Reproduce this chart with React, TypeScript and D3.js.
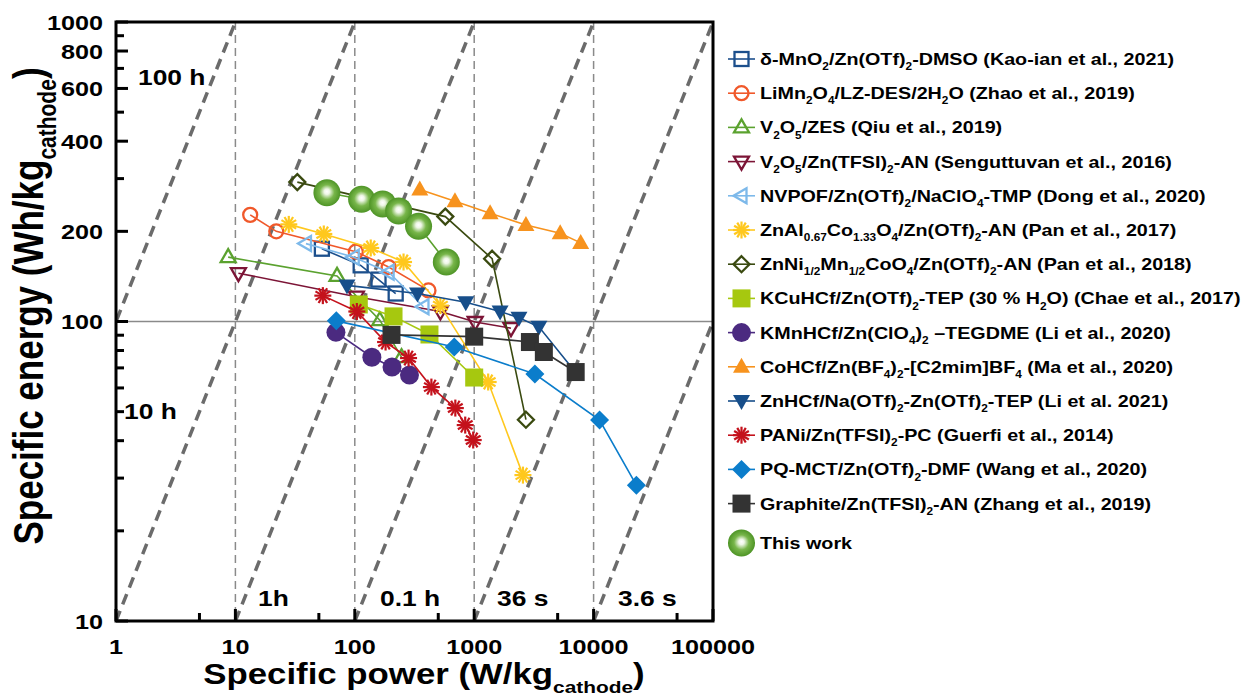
import React from 'react';
import * as d3 from 'd3';

const W = 1252;
const H = 695;
const SX = 1.2; // the reference figure is stretched horizontally
const FONT = '"Liberation Sans", Arial, Helvetica, sans-serif';

// [specific power (W/kg), specific energy (Wh/kg)]
const mno2Dmso = [[53, 175], [112, 154], [158, 138], [220, 124]];
const limn2o4Des = [[13.3, 227], [22, 200], [102, 171], [192, 152], [414, 127]];
const v2o5Zes = [[8.7, 164], [71, 142], [162, 101], [246, 76]];
const v2o5Tfsi = [[10.6, 145], [103, 121], [521, 108], [1019, 99.6], [2033, 95]];
const nvpof = [[39, 182], [98, 164], [192, 146], [376, 112]];
const znAlCo = [[28, 211], [55, 196], [136, 176], [256, 158], [521, 113], [1309, 62.8], [2560, 30.7]];
const znNiMn = [[33, 292], [573, 224], [1413, 162], [2712, 47]];
const kcuhcf = [[108, 114], [211, 104], [422, 90.5], [1000, 65]];
const kmnhcf = [[69.5, 92], [139, 76], [205, 70.5], [287, 66.3]];
const cohcf = [[350, 276], [690, 252], [1359, 230], [2712, 210], [5250, 197], [7798, 183]];
const znhcf = [[86, 132], [335, 124], [850, 116], [1648, 108], [2371, 103], [3481, 96], [7000, 68]];
const pani = [[54, 122], [104, 108], [181, 85.4], [282, 75.5], [438, 60.4], [695, 51.4], [841, 45.1], [981, 40.2]];
const pqmct = [[70, 100.5], [681, 82.2], [3224, 66.8], [11220, 46.9], [22810, 28.4]];
const graphite = [[203, 90.2], [1000, 89], [2929, 85.4], [3831, 79.1], [7079, 67.8]];
const thisWork = [[58.4, 269], [114, 256], [171, 247], [233, 234], [342, 208], [584, 158]];

const legendLabels = [
  'δ-MnO_{2}/Zn(OTf)_{2}-DMSO (Kao-ian et al., 2021)',
  'LiMn_{2}O_{4}/LZ-DES/2H_{2}O (Zhao et al., 2019)',
  'V_{2}O_{5}/ZES (Qiu et al., 2019)',
  'V_{2}O_{5}/Zn(TFSI)_{2}-AN (Senguttuvan et al., 2016)',
  'NVPOF/Zn(OTf)_{2}/NaClO_{4}-TMP (Dong et al., 2020)',
  'ZnAl_{0.67}Co_{1.33}O_{4}/Zn(OTf)_{2}-AN (Pan et al., 2017)',
  'ZnNi_{1/2}Mn_{1/2}CoO_{4}/Zn(OTf)_{2}-AN (Pan et al., 2018)',
  'KCuHCf/Zn(OTf)_{2}-TEP (30 % H_{2}O) (Chae et al., 2017)',
  'KMnHCf/Zn(ClO_{4})_{2} –TEGDME (Li et al., 2020)',
  'CoHCf/Zn(BF_{4})_{2}-[C2mim]BF_{4} (Ma et al., 2020)',
  'ZnHCf/Na(OTf)_{2}-Zn(OTf)_{2}-TEP (Li et al. 2021)',
  'PANi/Zn(TFSI)_{2}-PC (Guerfi et al., 2014)',
  'PQ-MCT/Zn(OTf)_{2}-DMF (Wang et al., 2020)',
  'Graphite/Zn(TFSI)_{2}-AN (Zhang et al., 2019)',
  'This work',
];

const series = [
  { data: mno2Dmso, color: '#1c4f8c', shape: 'sqOpen' },
  { data: limn2o4Des, color: '#f0582a', shape: 'circOpen' },
  { data: v2o5Zes, color: '#5ba22f', shape: 'triUpOpen' },
  { data: v2o5Tfsi, color: '#7c1436', shape: 'triDownOpen' },
  { data: nvpof, color: '#7db9ea', shape: 'triLeftOpen' },
  { data: znAlCo, color: '#ffc81e', shape: 'star' },
  { data: znNiMn, color: '#3a4a10', shape: 'diaOpen' },
  { data: kcuhcf, color: '#a6c80f', shape: 'sq' },
  { data: kmnhcf, color: '#4b2a80', shape: 'circ' },
  { data: cohcf, color: '#f7931e', shape: 'triUp' },
  { data: znhcf, color: '#174e8a', shape: 'triDown' },
  { data: pani, color: '#c4121c', shape: 'star' },
  { data: pqmct, color: '#0b7dcb', shape: 'dia' },
  { data: graphite, color: '#333333', shape: 'sq' },
  { data: thisWork, color: '#5aa02c', shape: 'ball' },
];

const xTicks = [1, 10, 100, 1000, 10000, 100000];
const xMinor = [5, 50, 500, 5000, 50000];
const yLabels = [10, 100, 200, 400, 600, 800, 1000];
const yMinor = [20, 30, 40, 50, 60, 70, 80, 90, 300, 500, 700, 900];
const hours = [100, 10, 1, 0.1, 0.01, 0.001];
const gridX = [10, 100, 1000, 10000];

const x = d3.scaleLog().domain([1, 100000]).range([116, 713]);
const y = d3.scaleLog().domain([10, 1000]).range([621, 22]);

function Rich({ text, size }: { text: string; size: number }) {
  const parts = text.split(/(_\{[^}]*\})/).filter((p) => p !== '');
  const off = size * 0.3;
  let wasSub = false;
  return (
    <>
      {parts.map((p, i) => {
        const isSub = p.startsWith('_{');
        const dy = isSub && !wasSub ? off : !isSub && wasSub ? -off : 0;
        wasSub = isSub;
        return (
          <tspan key={i} dy={dy} fontSize={isSub ? size * 0.6 : size}>
            {isSub ? p.slice(2, -1) : p}
          </tspan>
        );
      })}
    </>
  );
}

function T({ x0, y0, size, anchor = 'start', sx = SX, children }: any) {
  return (
    <g transform={`translate(${x0},${y0}) scale(${sx},1)`}>
      <text textAnchor={anchor} fontSize={size} fontWeight="bold" fontFamily={FONT} fill="#000">
        {children}
      </text>
    </g>
  );
}

function Marker({ shape, color }: { shape: string; color: string }) {
  const sw = 2.3;
  switch (shape) {
    case 'sqOpen':
      return <rect x={-7} y={-7} width={14} height={14} fill="none" stroke={color} strokeWidth={sw} />;
    case 'circOpen':
      return <circle r={7} fill="none" stroke={color} strokeWidth={sw} />;
    case 'triUpOpen':
      return <path d="M0,-8L7.5,5L-7.5,5Z" fill="none" stroke={color} strokeWidth={sw} />;
    case 'triDownOpen':
      return <path d="M0,8L7.5,-5L-7.5,-5Z" fill="none" stroke={color} strokeWidth={sw} />;
    case 'triLeftOpen':
      return <path d="M-8,0L5,-7.5L5,7.5Z" fill="none" stroke={color} strokeWidth={sw} />;
    case 'diaOpen':
      return <path d="M0,-8L8,0L0,8L-8,0Z" fill="none" stroke={color} strokeWidth={sw} />;
    case 'star': {
      const r = 8.5;
      return (
        <g stroke={color} strokeWidth={2.2}>
          {d3.range(6).map((k) => {
            const a = (k * Math.PI) / 6;
            return <line key={k} x1={-r * Math.cos(a)} y1={-r * Math.sin(a)} x2={r * Math.cos(a)} y2={r * Math.sin(a)} />;
          })}
        </g>
      );
    }
    case 'sq':
      return <rect x={-9} y={-9} width={18} height={18} fill={color} />;
    case 'circ':
      return <circle r={9.5} fill={color} />;
    case 'triUp':
      return <path d="M0,-9L8.5,6L-8.5,6Z" fill={color} />;
    case 'triDown':
      return <path d="M0,9L8.5,-6L-8.5,-6Z" fill={color} />;
    case 'dia':
      return <path d="M0,-9.5L9.5,0L0,9.5L-9.5,0Z" fill={color} />;
    case 'ball':
      return <circle r={13.5} fill="url(#ballGrad)" />;
    default:
      return null;
  }
}

export default function App() {
  const line = d3
    .line<number[]>()
    .x((d) => x(d[0]))
    .y((d) => y(d[1]));
  const [x0, x1] = x.range();
  const [y0, y1] = y.range();
  const legendY = legendLabels.map((_, i) => (i < 14 ? 59 + i * 34.2 : 543));

  return (
    <svg width={W} height={H} style={{ position: 'absolute', left: 0, top: 0, background: '#fff' }}>
      <defs>
        <clipPath id="plotClip">
          <rect x={x0} y={y1} width={x1 - x0} height={y0 - y1} />
        </clipPath>
        <radialGradient id="ballGrad" cx="0.5" cy="0.5" r="0.5" fx="0.5" fy="0.45">
          <stop offset="0" stopColor="#ffffff" />
          <stop offset="0.2" stopColor="#eef6e6" />
          <stop offset="0.55" stopColor="#78b64a" />
          <stop offset="1" stopColor="#4e9426" />
        </radialGradient>
      </defs>
      <rect width={W} height={H} fill="#fff" />

      {/* guides */}
      <g clipPath="url(#plotClip)">
        {gridX.map((v) => (
          <line key={v} x1={x(v)} x2={x(v)} y1={y1} y2={y0} stroke="#8a8a8a" strokeWidth={1.5} strokeDasharray="8,5" />
        ))}
        <line x1={x0} x2={x1} y1={y(100)} y2={y(100)} stroke="#8a8a8a" strokeWidth={1.5} />
        {hours.map((t) => (
          <line
            key={t}
            x1={x(10 / t)}
            y1={y(10)}
            x2={x(1000 / t)}
            y2={y(1000)}
            stroke="#6b6b6b"
            strokeWidth={3.5}
            strokeDasharray="11,7"
          />
        ))}
      </g>

      {/* series */}
      {series.map((s, i) => (
        <g key={i}>
          <path d={line(s.data) || ''} fill="none" stroke={s.color} strokeWidth={1.6} />
          {s.data.map((d, j) => (
            <g key={j} transform={`translate(${x(d[0])},${y(d[1])})`}>
              <Marker shape={s.shape} color={s.color} />
            </g>
          ))}
        </g>
      ))}

      {/* frame and ticks */}
      <rect x={x0} y={y1} width={x1 - x0} height={y0 - y1} fill="none" stroke="#000" strokeWidth={3} />
      {xTicks.map((v) => (
        <line key={v} x1={x(v)} x2={x(v)} y1={y0} y2={y0 - 12} stroke="#000" strokeWidth={3} />
      ))}
      {xMinor.map((v) => (
        <line key={v} x1={x(v)} x2={x(v)} y1={y0} y2={y0 - 8} stroke="#000" strokeWidth={3} />
      ))}
      {yLabels.map((v) => (
        <line key={v} x1={x0} x2={x0 + 12} y1={y(v)} y2={y(v)} stroke="#000" strokeWidth={3} />
      ))}
      {yMinor.map((v) => (
        <line key={v} x1={x0} x2={x0 + 8} y1={y(v)} y2={y(v)} stroke="#000" strokeWidth={3} />
      ))}

      {/* tick labels */}
      {xTicks.map((v) => (
        <T key={v} x0={x(v)} y0={654} size={21} anchor="middle">
          {String(v)}
        </T>
      ))}
      {yLabels.map((v) => (
        <T key={v} x0={103} y0={y(v) + 7.5} size={21} anchor="end">
          {String(v)}
        </T>
      ))}

      {/* time annotations */}
      <T x0={138} y0={85} size={22}>100 h</T>
      <T x0={124} y0={419} size={22}>10 h</T>
      <T x0={258} y0={606} size={22}>1h</T>
      <T x0={380} y0={606} size={22}>0.1 h</T>
      <T x0={497} y0={606} size={22}>36 s</T>
      <T x0={618} y0={606} size={22}>3.6 s</T>

      {/* axis titles */}
      <T x0={424} y0={684} size={29} anchor="middle">
        <Rich text="Specific power (W/kg_{cathode})" size={29} />
      </T>
      <g transform={`translate(43,306) scale(${SX},1) rotate(-90)`}>
        <text textAnchor="middle" fontSize={35} fontWeight="bold" fontFamily={FONT}>
          <Rich text="Specific energy (Wh/kg_{cathode})" size={35} />
        </text>
      </g>

      {/* legend */}
      {series.map((s, i) => (
        <g key={i} transform={`translate(0,${legendY[i]})`}>
          <line x1={728} x2={755} y1={0} y2={0} stroke={s.color} strokeWidth={1.6} />
          <g transform="translate(741.5,0)">
            <Marker shape={s.shape} color={s.color} />
          </g>
          <T x0={760} y0={6} size={17} sx={1.16}>
            <Rich text={legendLabels[i]} size={17} />
          </T>
        </g>
      ))}
    </svg>
  );
}
